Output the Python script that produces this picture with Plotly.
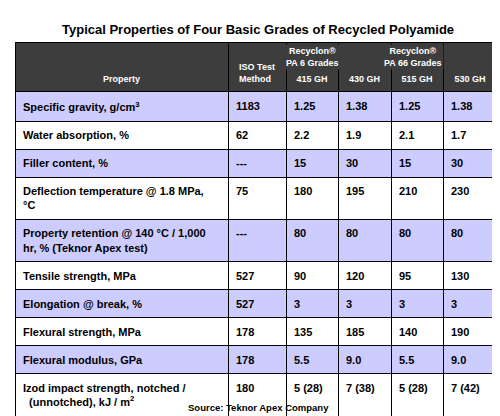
import plotly.graph_objects as go

properties = ["Specific gravity, g/cm<sup>3</sup>", "Water absorption, %", "Filler content, %",
              "Deflection temperature @ 1.8 MPa,<br>°C",
              "Property retention @ 140 °C / 1,000<br>hr, % (Teknor Apex test)",
              "Tensile strength, MPa", "Elongation @ break, %", "Flexural strength, MPa",
              "Flexural modulus, GPa",
              "Izod impact strength, notched /<br>  (unnotched), kJ / m<sup>2</sup>",
              "Charpy impact strength, notched /<br>  (unnotched), kJ / m<sup>2</sup>"]
iso_method = ["1183", "62", "---", "75", "---", "527", "527", "178", "178", "180", "179"]
ga415 = ["1.25", "2.2", "15", "180", "80", "90", "3", "135", "5.5", "5 (28)", "5 (40)"]
ga430 = ["1.38", "1.9", "30", "195", "80", "120", "3", "185", "9.0", "7 (38)", "7.5 (55)"]
gb515 = ["1.25", "2.1", "15", "210", "80", "95", "3", "140", "5.5", "5 (28)", "4.5 (35)"]
gb530 = ["1.38", "1.7", "30", "230", "80", "130", "3", "190", "9.0", "7 (42)", "7 (50)"]
headers = ["Property", "ISO Test<br>Method", "415 GH", "430 GH", "515 GH", "530 GH"]
groups = ["Recyclon®<br>PA 6 Grades", "Recyclon®<br>PA 66 Grades"]

fills = ["#ccccff" if i % 2 == 0 else "white" for i in range(len(properties))]
font = "Liberation Sans"

fig = go.Figure(go.Table(
    domain=dict(x=[0.014, 0.978], y=[0, 0.918]),
    columnwidth=[213, 58, 52, 53, 52, 54],
    header=dict(
        values=["&nbsp;<br>&nbsp;<br><b>Property</b>", "&nbsp;<br><b>ISO Test<br>Method</b>"]
        + ["&nbsp;<br>&nbsp;<br><b>%s</b>" % h for h in headers[2:]],
        fill_color="#3d3d3d", line_color="black", line_width=1,
        font=dict(family=font, size=9, color="white"), align="center", height=44),
    cells=dict(
        values=[["<b>%s</b>" % v for v in col] for col in
                [properties, iso_method, ga415, ga430, gb515, gb530]],
        fill_color=[fills] * 6, line_color="black", line_width=1,
        font=dict(family=font, size=11, color="black"), align="left", height=24.5),
))

# group labels spanning two grade columns
for cx, g in zip([304 / 500, 436 / 500], groups):
    fig.add_annotation(x=cx, y=1 - 36 / 416, xref="paper", yref="paper", text="<b>%s</b>" % g,
                       showarrow=False, yanchor="top", bgcolor="#3d3d3d",
                       font=dict(family=font, size=9, color="white"))

fig.add_annotation(x=0.5, y=1 - 12 / 416, xref="paper", yref="paper", showarrow=False,
                   text="<b>Typical Properties of Four Basic Grades of Recycled Polyamide</b>",
                   font=dict(family=font, size=13, color="black"))
fig.add_annotation(x=0.5, y=1 - 407 / 416, xref="paper", yref="paper", showarrow=False,
                   text="<b>Source: Teknor Apex Company</b>",
                   font=dict(family=font, size=9.5, color="black"))

fig.update_layout(width=500, height=416, margin=dict(l=0, r=0, t=0, b=0),
                  paper_bgcolor="white")
fig.write_html("out.html")
